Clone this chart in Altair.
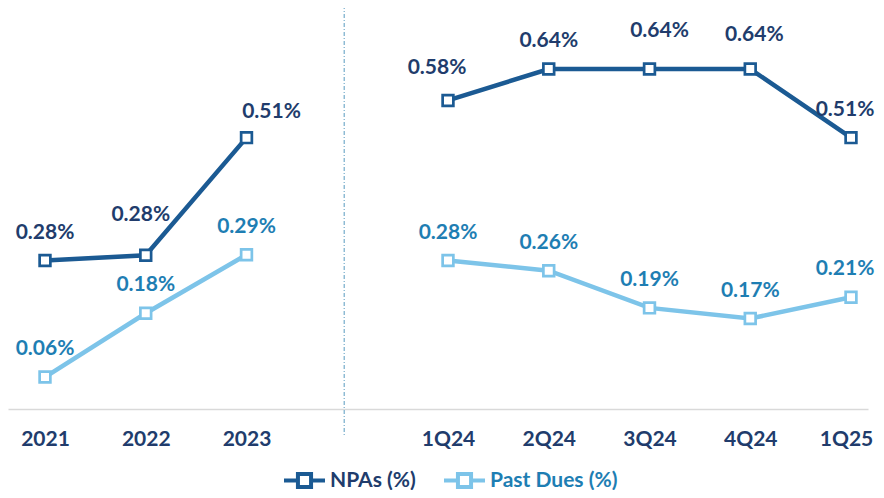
import altair as alt
import pandas as pd

# ---- data ----
periods = ["2021", "2022", "2023", "", "1Q24", "2Q24", "3Q24", "4Q24", "1Q25"]
npa_values = [0.279, 0.289, 0.51, None, 0.58, 0.639, 0.639, 0.639, 0.51]
past_due_values = [0.06, 0.18, 0.29, None, 0.279, 0.26, 0.19, 0.17, 0.21]
npa_labels = ["0.28%", "0.28%", "0.51%", "", "0.58%", "0.64%", "0.64%", "0.64%", "0.51%"]
past_due_labels = ["0.06%", "0.18%", "0.29%", "", "0.28%", "0.26%", "0.19%", "0.17%", "0.21%"]
series_names = ["NPAs (%)", "Past Dues (%)"]

gap = periods.index("")
rows = []
for name, vals, labs in [(series_names[0], npa_values, npa_labels),
                         (series_names[1], past_due_values, past_due_labels)]:
    for i, (p, v, l) in enumerate(zip(periods, vals, labs)):
        if v is None:
            continue
        rows.append({"idx": i, "period": p, "series": name, "value": v, "label": l,
                     "segment": "annual" if i < gap else "quarterly"})
df = pd.DataFrame(rows)
sep_df = pd.DataFrame({"idx": [gap - 0.03]})

# ---- styles ----
FONT = "Lato"
NPA_LINE = "#1B5A93"
NPA_TEXT = "#213C6C"
PD_LINE = "#7DC4E9"
PD_TEXT = "#1E7EB3"
SYMBOL = "M-1,0H-0.32M0.32,0H1M-0.32,-0.32H0.32V0.32H-0.32Z"

PLOT_W = 860
STEP = 100.75
X_MIN = -37 / STEP
X_MAX = X_MIN + PLOT_W / STEP
LAST_IDX = len(periods) - 1

label_offsets = {
    (series_names[0], "2022"): (-5, -40),
    (series_names[0], "2023"): (25, -26),
    (series_names[0], "1Q24"): (-11, -32),
    (series_names[0], "3Q24"): (10, -38),
    (series_names[0], "4Q24"): (4, -34),
    (series_names[0], "1Q25"): (-6, -28),
    (series_names[1], "1Q25"): (-6, -28),
}
DEFAULT_OFF = (0, -28)

label_array = "[" + ",".join("'" + p + "'" for p in periods) + "]"
X = alt.X("idx:Q",
          scale=alt.Scale(domain=[X_MIN, X_MAX], nice=False, zero=False),
          axis=alt.Axis(values=[i for i, p in enumerate(periods) if p],
                        labelExpr=label_array + "[datum.value]",
                        labelOffset=alt.ExprRef(f"datum.value == {LAST_IDX} ? -5 : 0"),
                        grid=False, ticks=False, title=None,
                        domainColor="#D9D9D9", domainWidth=1.5,
                        labelFont=FONT, labelFontSize=21, labelFontWeight="bold",
                        labelColor=NPA_TEXT, labelPadding=19,
                        labelFlush=False, labelOverlap=False))
Y = alt.Y("value:Q", scale=alt.Scale(domain=[0, 0.7537], nice=False), axis=None)


def series_layer(name, line_color, text_color, legend_x):
    base = alt.Chart(df).transform_filter(alt.datum.series == name)
    color = alt.Color("series:N",
                      scale=alt.Scale(domain=[name], range=[line_color]),
                      legend=alt.Legend(title=None, orient="none", legendX=legend_x, legendY=450,
                                        direction="horizontal", symbolType=SYMBOL,
                                        symbolSize=1681, symbolStrokeWidth=4,
                                        symbolFillColor="white", symbolOpacity=1,
                                        labelFont=FONT, labelFontSize=21, labelFontWeight="bold",
                                        labelColor=text_color, labelOffset=3, padding=0))
    line = base.mark_line(strokeWidth=4.5).encode(x=X, y=Y, detail="segment:N", color=color)
    pts = base.mark_point(shape="square", size=115, strokeWidth=2.7, fill="white",
                          fillOpacity=1, opacity=1).encode(x=X, y=Y, color=color)
    special = [p for (s, p) in label_offsets if s == name]
    text_common = dict(font=FONT, fontSize=21, fontWeight="bold", color=text_color,
                       baseline="middle", align="center")
    default_text = base.transform_filter(
        {"not": {"field": "period", "oneOf": special}} if special else alt.datum.idx >= 0
    ).mark_text(dx=DEFAULT_OFF[0], dy=DEFAULT_OFF[1], **text_common).encode(x=X, y=Y, text="label:N")
    layers = [line, pts, default_text]
    for p in special:
        dx, dy = label_offsets[(name, p)]
        layers.append(base.transform_filter(alt.datum.period == p)
                      .mark_text(dx=dx, dy=dy, **text_common)
                      .encode(x=X, y=Y, text="label:N"))
    return alt.layer(*layers)


separator = alt.Chart(sep_df).mark_rule(color="#7FB2CF", strokeWidth=1.3,
                                        strokeDash=[4, 2, 1, 2]).encode(
    x=X, y=alt.value(-3), y2=alt.value(429))

chart = alt.layer(
    separator,
    series_layer(series_names[0], NPA_LINE, NPA_TEXT, 274),
    series_layer(series_names[1], PD_LINE, PD_TEXT, 434),
).resolve_scale(color="independent").properties(
    width=PLOT_W, height=401,
    autosize=alt.AutoSizeParams(type="none"),
    padding={"left": 0, "top": 0, "right": 8, "bottom": 81},
).configure_view(stroke=None)

chart.save("out.html", embed_options={"renderer": "svg", "actions": False})
